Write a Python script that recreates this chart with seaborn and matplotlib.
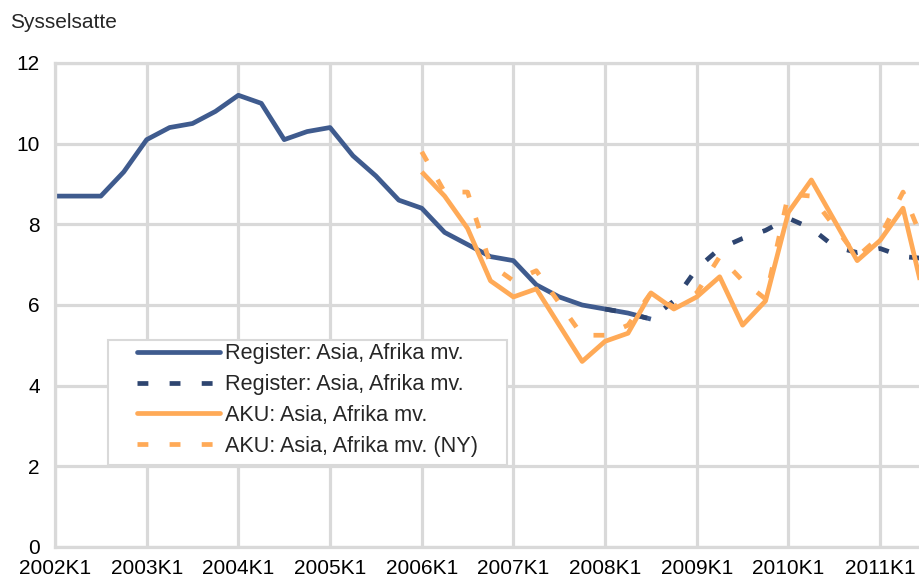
import numpy as np
import pandas as pd
import matplotlib
matplotlib.use("Agg")
import matplotlib.pyplot as plt
from matplotlib.patches import Rectangle
import seaborn as sns

# kvartaler fra 2002K1 til 2011K3
kvartaler = [f"{aar}K{k}" for aar in range(2002, 2012) for k in range(1, 5)][:39]
aars_etiketter = [f"{aar}K1" for aar in range(2002, 2012)]

# Register: Asia, Afrika mv. (heltrukket) 2002K1-2008K3
register = [8.7, 8.7, 8.7, 9.3, 10.1, 10.4, 10.5, 10.8, 11.2, 11.0, 10.1, 10.3,
            10.4, 9.7, 9.2, 8.6, 8.4, 7.8, 7.5, 7.2, 7.1, 6.5, 6.2, 6.0,
            5.9, 5.8, 5.65]
# Register: Asia, Afrika mv. (stiplet) 2008K1-2011K3
register_ny = [5.9, 5.8, 5.65, 6.1, 6.9, 7.4, 7.65, 7.85, 8.15, 7.9, 7.45, 7.3,
               7.4, 7.2, 7.15]
# AKU 2006K1-2011K3
aku = [9.3, 8.7, 7.9, 6.6, 6.2, 6.4, 5.5, 4.6, 5.1, 5.3, 6.3, 5.9,
       6.2, 6.7, 5.5, 6.1, 8.3, 9.1, 8.1, 7.1, 7.6, 8.4, 6.0]
# AKU (NY) 2006K1-2011K3
aku_ny = [9.8, 8.8, 8.8, 7.0, 6.6, 6.85, 6.05, 5.25, 5.25, 5.5, 6.3, 5.95,
          6.3, 7.2, 6.6, 6.15, 8.75, 8.7, 7.95, 7.2, 7.7, 8.8, 7.4]

stiplet = (0, (2.3, 4.5))
serier = [
    ("Register: Asia, Afrika mv.", register, 0, "#3F5B8E", "-"),
    ("Register: Asia, Afrika mv.", register_ny, 24, "#2E4570", stiplet),
    ("AKU: Asia, Afrika mv.", aku, 16, "#FFAA57", "-"),
    ("AKU: Asia, Afrika mv. (NY)", aku_ny, 16, "#FFAA57", stiplet),
]

sns.set_style("white")
plt.rcParams["font.family"] = ["Liberation Sans", "DejaVu Sans"]
fs = 15

fig = plt.figure(figsize=(9.19, 5.83), dpi=100)
ax = fig.add_axes([55 / 919, 36 / 583, 864 / 919, 484 / 583])

handles = []
for navn, verdier, start, farge, stil in serier:
    df = pd.DataFrame({"x": np.arange(start, start + len(verdier)), "y": verdier})
    sns.lineplot(data=df, x="x", y="y", ax=ax, color=farge, linewidth=3.4,
                 linestyle=stil, solid_capstyle="butt", dash_capstyle="butt")
    handles.append(plt.Line2D([], [], color=farge, linewidth=3.4, linestyle=stil,
                              solid_capstyle="round", dash_capstyle="butt", label=navn))

ax.set_xlim(0, 864 / 22.92)
ax.set_ylim(0, 12)
ax.set_xticks(np.arange(0, 40, 4))
ax.set_xticklabels(aars_etiketter)
ax.set_yticks(np.arange(0, 13, 2))
ax.set_xlabel("")
ax.set_ylabel("")
ax.grid(True, color="#D9D9D9", linewidth=2.3)
ax.set_axisbelow(True)
for side in ["left", "bottom", "top"]:
    ax.spines[side].set_color("#D9D9D9")
    ax.spines[side].set_linewidth(2.3)
ax.spines["right"].set_visible(False)
ax.tick_params(axis="both", length=0, labelsize=fs, colors="black")
ax.tick_params(axis="y", pad=11)
ax.tick_params(axis="x", pad=9)

fig.text(10 / 919, 1 - 28 / 583, "Sysselsatte", fontsize=fs, va="baseline", ha="left")

# legendeboks
ramme = Rectangle((108 / 919, 1 - 465 / 583), 399 / 919, 125 / 583,
                  transform=fig.transFigure, facecolor="white",
                  edgecolor="#D9D9D9", linewidth=1.5, zorder=5, clip_on=False)
ax.add_patch(ramme)
leg = ax.legend(handles=handles, loc="upper left",
                bbox_to_anchor=(137 / 919, 1 - 343.5 / 583), bbox_transform=fig.transFigure,
                fontsize=15.6, handlelength=3.83, handletextpad=0.23, labelspacing=0.45,
                borderpad=0, borderaxespad=0, frameon=False)
leg.set_zorder(6)

plt.savefig("out.png", dpi=100)
